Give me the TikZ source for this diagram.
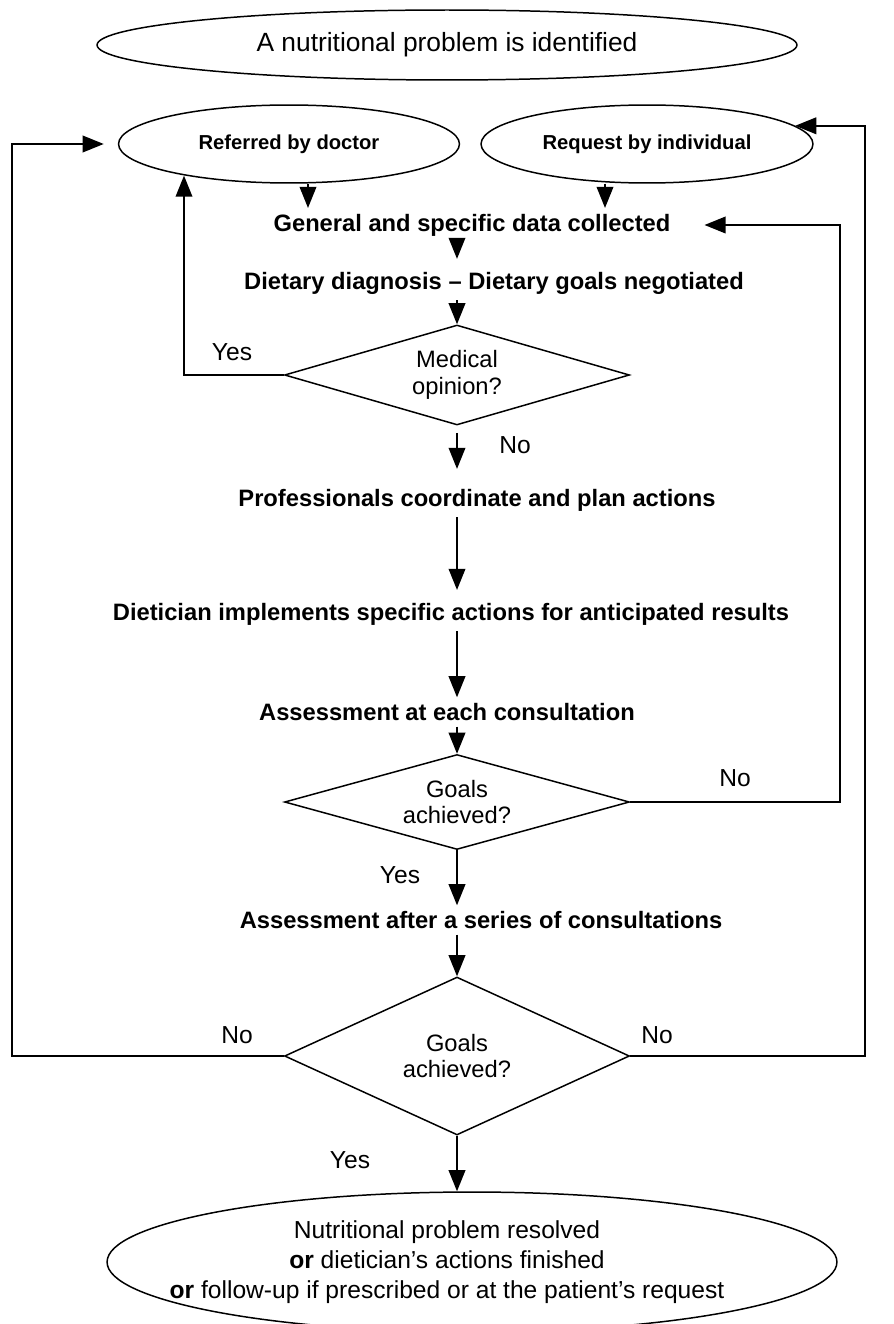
\documentclass[tikz,border=0pt]{standalone}
\usepackage{fontspec}
\setmainfont{Liberation Sans}
\usepackage{tikz}
\usetikzlibrary{arrows.meta, shapes.geometric, positioning}

\begin{document}
\begin{tikzpicture}[x=0.02cm, y=-0.02cm, line width=0.85pt,
		oval/.style={draw, ellipse, inner sep=0pt},
		stage/.style={inner sep=3pt, font=\bfseries\fontsize{13.5}{16}\selectfont},
		query/.style={draw, diamond, inner sep=0pt, minimum width=6.9cm, align=center, font=\fontsize{13.5}{15}\selectfont},
		lbl/.style={inner sep=0pt, font=\fontsize{14}{17}\selectfont},
		arr/.style={-{Triangle[length=12pt, width=9.5pt]}}]
	\useasboundingbox (0,0) rectangle (893,1324);
	\node [oval, minimum width=14cm, minimum height=1.4cm, font=\fontsize{15}{18}\selectfont] (start) at (447,45) {A nutritional problem is identified};
	\node [oval, minimum width=6.82cm, minimum height=1.56cm, font=\bfseries\fontsize{11.5}{14}\selectfont] (refd) at (289,144) {Referred by doctor};
	\node [oval, minimum width=6.64cm, minimum height=1.56cm, font=\bfseries\fontsize{11.5}{14}\selectfont] (reqi) at (647,144) {Request by individual};
	\node [stage] (gen) at (472,225) {General and specific data collected};
	\node [stage] (diag) at (494,283) {Dietary diagnosis -- Dietary goals negotiated};
	\node [query, aspect=3.45, minimum height=2cm] (qmed) at (457,375) {Medical\\opinion?};
	\node [stage] (prof) at (477,500) {Professionals coordinate and plan actions};
	\node [stage] (impl) at (451,614) {Dietician implements specific actions for anticipated results};
	\node [stage] (each) at (447,712) {Assessment at each consultation};
	\node [query, aspect=3.63, minimum height=1.9cm] (qone) at (457,802) {Goals\\achieved?};
	\node [stage] (series) at (481,920) {Assessment after a series of consultations};
	\node [query, aspect=2.18, minimum height=3.16cm] (qall) at (457,1056) {Goals\\achieved?};
	\node [oval, minimum width=14.6cm, minimum height=2.8cm] (finish) at (472,1262) {};
	\node [align=center, font=\fontsize{14}{17}\selectfont] (finishtxt) at (447,1262) {Nutritional problem resolved\\
		\textbf{or} dietician’s actions finished\\
		\textbf{or} follow-up if prescribed or at the patient’s request};

	\node [lbl] (yesmed) at (232,352) {Yes};
	\node [lbl] (nomed) at (515,445) {No};
	\node [lbl] (noone) at (735,778) {No};
	\node [lbl] (yesone) at (400,875) {Yes};
	\node [lbl] (noallL) at (237,1035) {No};
	\node [lbl] (noallR) at (657,1035) {No};
	\node [lbl] (yesall) at (350,1160) {Yes};

	\coordinate (c0) at (184,0);
	\coordinate (c1) at (308,0);
	\coordinate (c2) at (605,0);
	\coordinate (c3) at (840,0);
	\coordinate (c4) at (12,0);
	\coordinate (c5) at (865,0);

	\draw [arr] (refd.south -| c1) -- (gen.north -| c1);
	\draw [arr] (reqi.south -| c2) -- (gen.north -| c2);
	\draw [arr, shorten <=-7pt, shorten >=4pt] (gen.south -| qmed.north) -- (diag.north -| qmed.north);
	\draw [arr] (diag.south -| qmed.north) -- (qmed.north);
	\draw [arr, shorten <=4pt, shorten >=8pt] (qmed.south) -- (prof.north -| qmed.south);
	\draw [arr, shorten >=4pt] (prof.south -| qmed.south) -- (impl.north -| qmed.south);
	\draw [arr] (impl.south -| qmed.south) -- (each.north -| qmed.south);
	\draw [arr] (each.south -| qone.north) -- (qone.north);
	\draw [arr] (qone.south) -- (series.north -| qone.south);
	\draw [arr] (series.south -| qall.north) -- (qall.north);
	\draw [arr] (qall.south) -- (finish.north -| qall.south);

	\draw [arr] (qmed.west) -- (qmed.west -| c0) -- (refd.197 -| c0);
	\draw [arr, shorten >=16pt] (qone.east) -- (qone.east -| c3) -- (gen.east -| c3) -- (gen.east);
	\draw [arr, shorten >=8pt] (qall.west) -- (qall.west -| c4) -- (refd.west -| c4) -- (refd.west);
	\draw [arr] (qall.east) -- (qall.east -| c5) -- (reqi.7 -| c5) -- (reqi.7);
\end{tikzpicture}
\end{document}
